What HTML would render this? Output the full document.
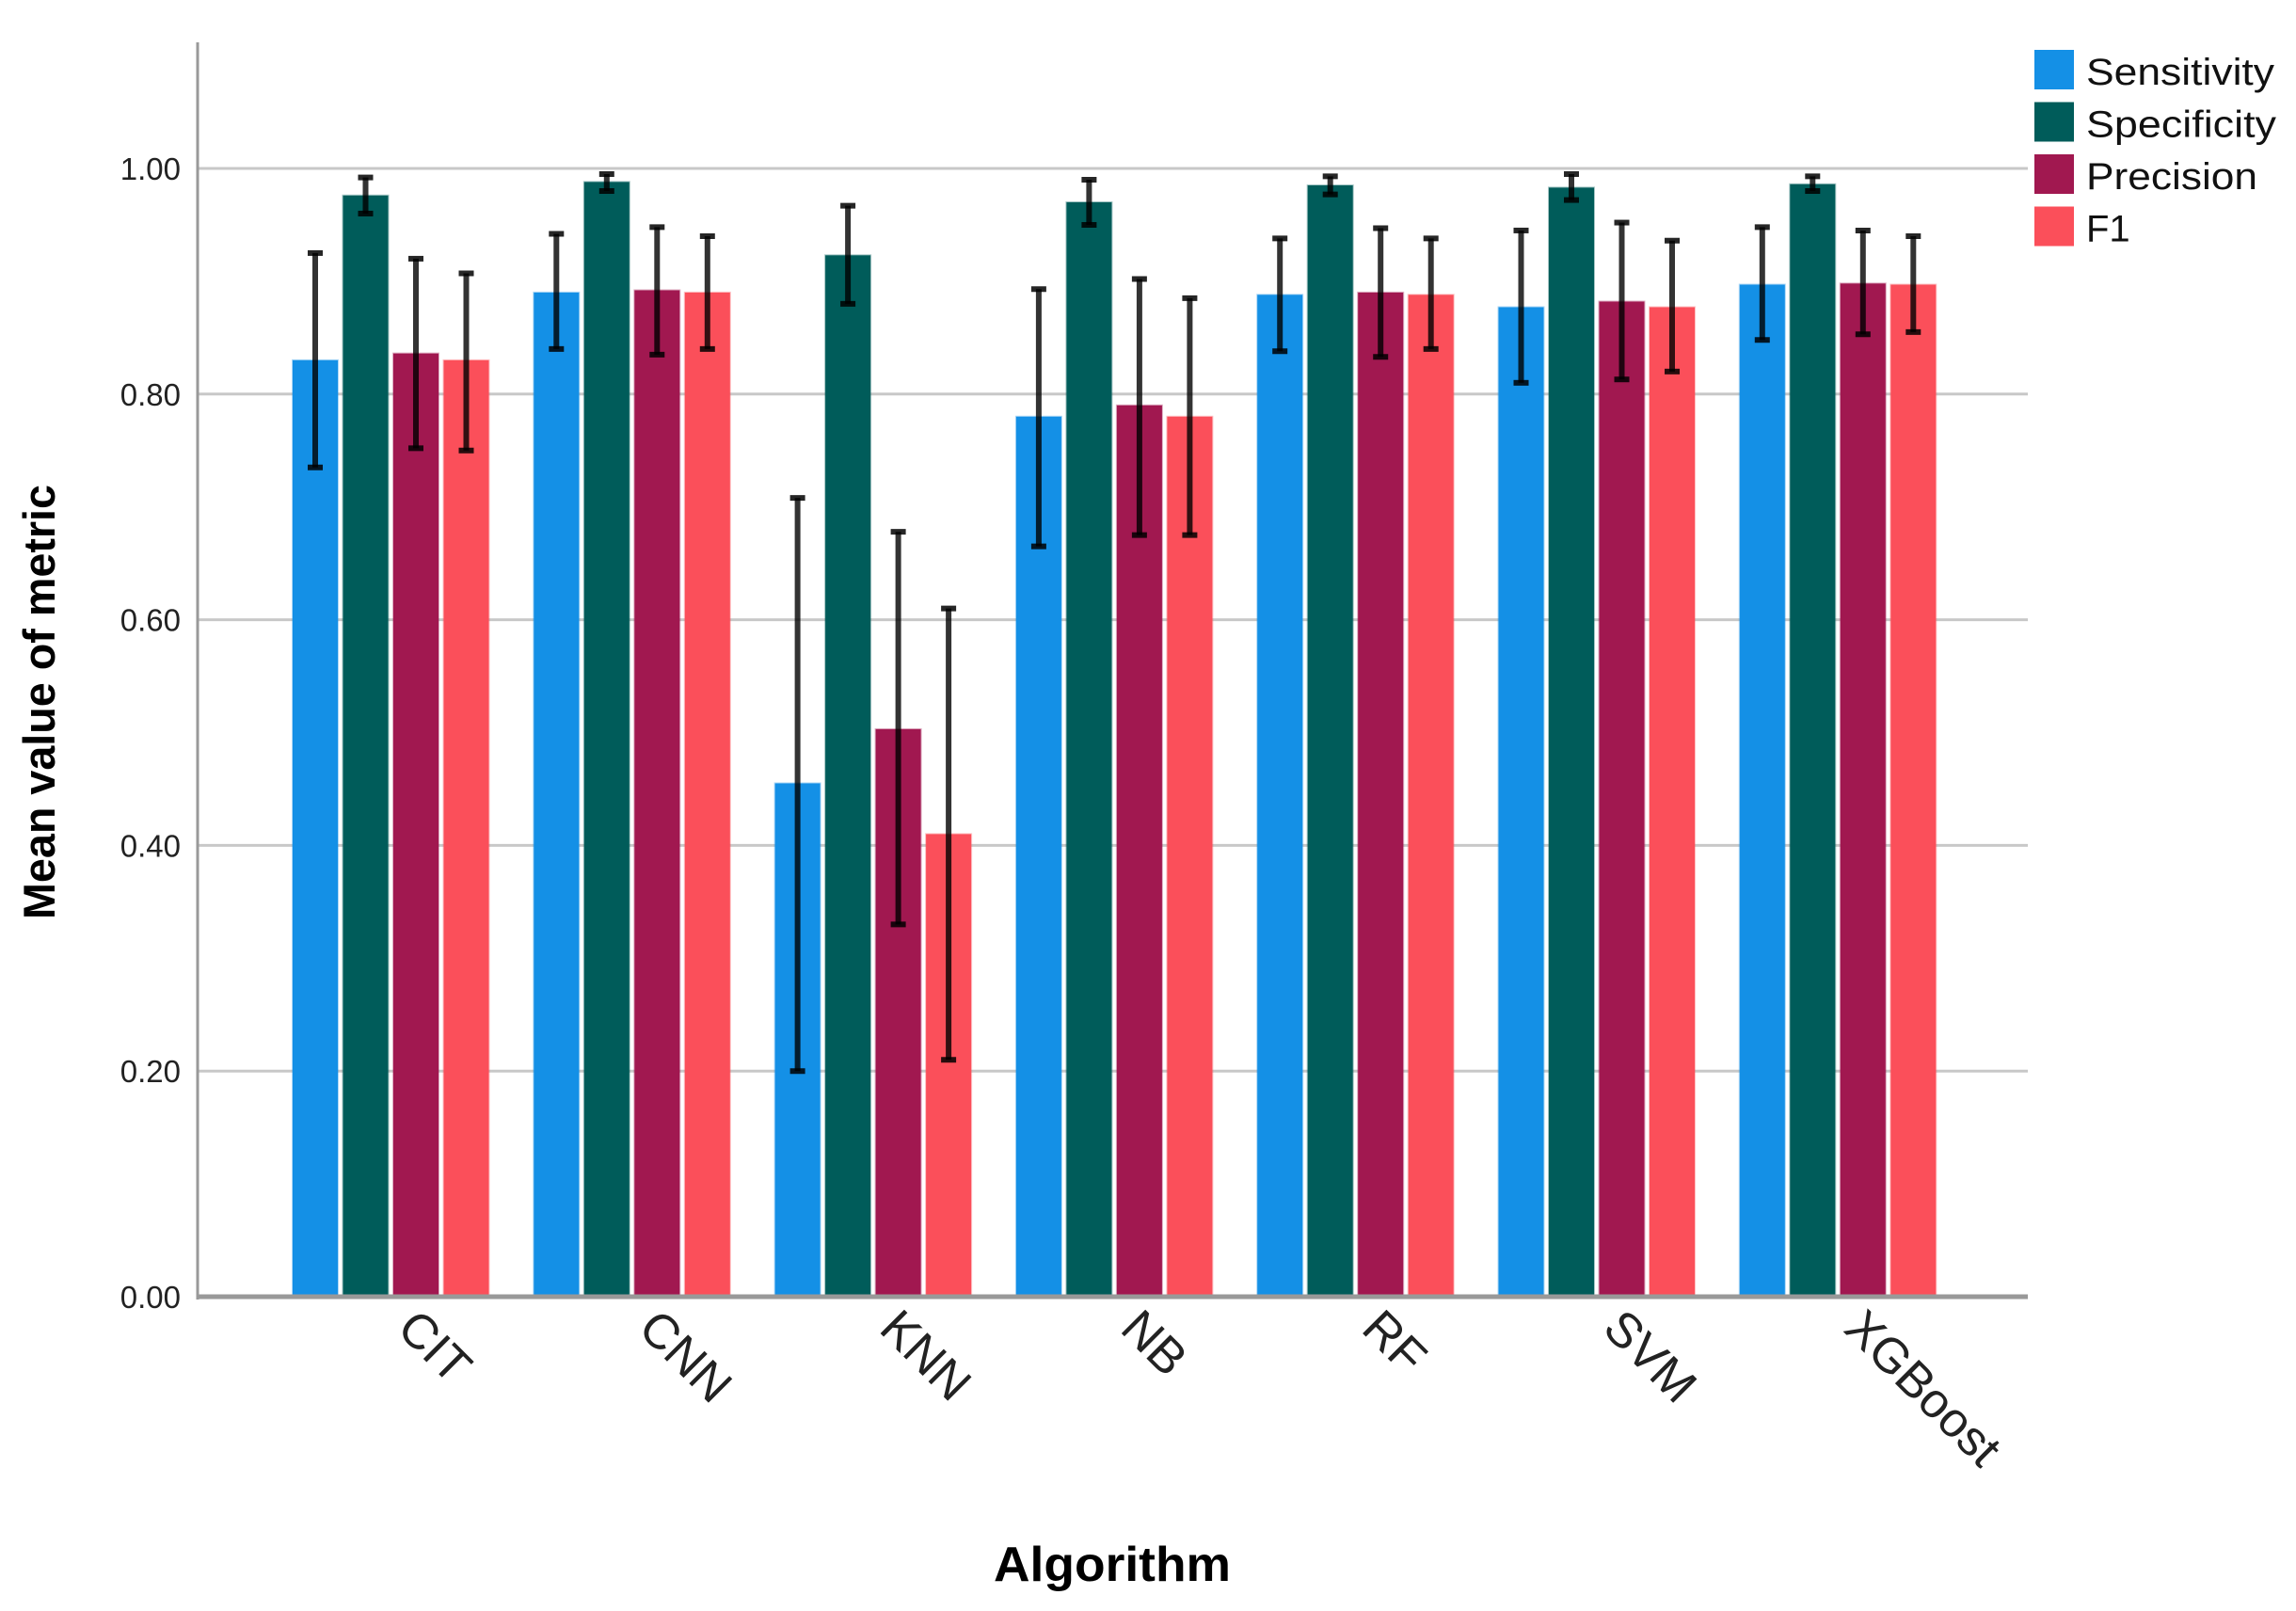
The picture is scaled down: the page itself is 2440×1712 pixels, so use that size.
<!DOCTYPE html>
<html><head><meta charset="utf-8"><style>html,body{margin:0;padding:0;background:#fff}svg{display:block}</style></head>
<body>
<svg id="c" width="2440" height="1712" xmlns="http://www.w3.org/2000/svg" font-family="Liberation Sans, Arial, sans-serif"></svg>
<script>
const s=document.getElementById('c');
const Y0=1378,K=1199,X0=210,X1=2155;
const y=v=>Y0-v*K;
let h='';
for(const v of [0.2,0.4,0.6,0.8,1.0]){h+=`<line x1="${X0}" x2="${X1}" y1="${y(v)}" y2="${y(v)}" stroke="#c8c8c8" stroke-width="3"/>`;}
for(const v of [0,0.2,0.4,0.6,0.8,1.0]){h+=`<text x="192" y="${y(v)+12}" text-anchor="end" font-size="33" fill="#222">${v.toFixed(2)}</text>`;}
const cols=['#1490e6','#005c5a','#a11850','#fb4f5a'];
const names=['CIT','CNN','KNN','NB','RF','SVM','XGBoost'];
const d=[
[[.83,.735,.925],[.976,.96,.992],[.836,.752,.92],[.83,.75,.907]],
[[.89,.84,.942],[.988,.98,.995],[.892,.835,.948],[.89,.84,.94]],
[[.455,.2,.708],[.923,.88,.967],[.503,.33,.678],[.41,.21,.61]],
[[.78,.665,.893],[.97,.95,.99],[.79,.675,.902],[.78,.675,.885]],
[[.888,.838,.938],[.985,.977,.993],[.89,.833,.947],[.888,.84,.938]],
[[.877,.81,.945],[.983,.972,.995],[.882,.813,.952],[.877,.82,.936]],
[[.897,.848,.948],[.986,.98,.993],[.898,.853,.945],[.897,.855,.94]]];
let eb='';
d.forEach((g,i)=>{
 const gx=311+i*256.3;
 g.forEach((b,j)=>{
  const x=gx+j*53.5, w=48, cx=x+w/2;
  h+=`<rect x="${x}" y="${y(b[0])}" width="${w}" height="${Y0-y(b[0])}" fill="${cols[j]}" stroke="${cols[j]}" stroke-opacity="0.35" stroke-width="2"/>`;
  eb+=`<line x1="${cx}" x2="${cx}" y1="${y(b[2])}" y2="${y(b[1])}" stroke="#000" stroke-opacity="0.8" stroke-width="6"/>`;
  eb+=`<line x1="${cx-8}" x2="${cx+8}" y1="${y(b[2])}" y2="${y(b[2])}" stroke="#000" stroke-opacity="0.85" stroke-width="6"/>`;
  eb+=`<line x1="${cx-8}" x2="${cx+8}" y1="${y(b[1])}" y2="${y(b[1])}" stroke="#000" stroke-opacity="0.85" stroke-width="6"/>`;
 });
 const c=gx+104;
 h+=`<text transform="translate(${c+31},${1388}) rotate(45)" font-size="52" fill="#222" dominant-baseline="hanging">${names[i]}</text>`;
});
h+=eb;
h+=`<line x1="${X0}" x2="${X0}" y1="45" y2="${Y0+3}" stroke="#999" stroke-width="3"/>`;
h+=`<line x1="${X0}" x2="${X1}" y1="${Y0}" y2="${Y0}" stroke="#999" stroke-width="5"/>`;
h+=`<text transform="translate(58,746) rotate(-90)" text-anchor="middle" font-size="47" font-weight="bold" textLength="462" lengthAdjust="spacingAndGlyphs">Mean value of metric</text>`;
h+=`<text x="1182" y="1680" text-anchor="middle" font-size="52" font-weight="bold" textLength="252" lengthAdjust="spacingAndGlyphs">Algorithm</text>`;
const ln=['Sensitivity','Specificity','Precision','F1'];
ln.forEach((t,i)=>{
 const yy=53+i*55.5;
 h+=`<rect x="2162" y="${yy}" width="42" height="42" fill="${cols[i]}"/>`;
 h+=`<text x="2217" y="${yy+37}" font-size="40" fill="#111" ${t.length>2?`textLength="${t=='Precision'?182:t=='Sensitivity'?200:202}" lengthAdjust="spacingAndGlyphs"`:''}>${t}</text>`;
});
s.innerHTML=h;
</script>
</body></html>
